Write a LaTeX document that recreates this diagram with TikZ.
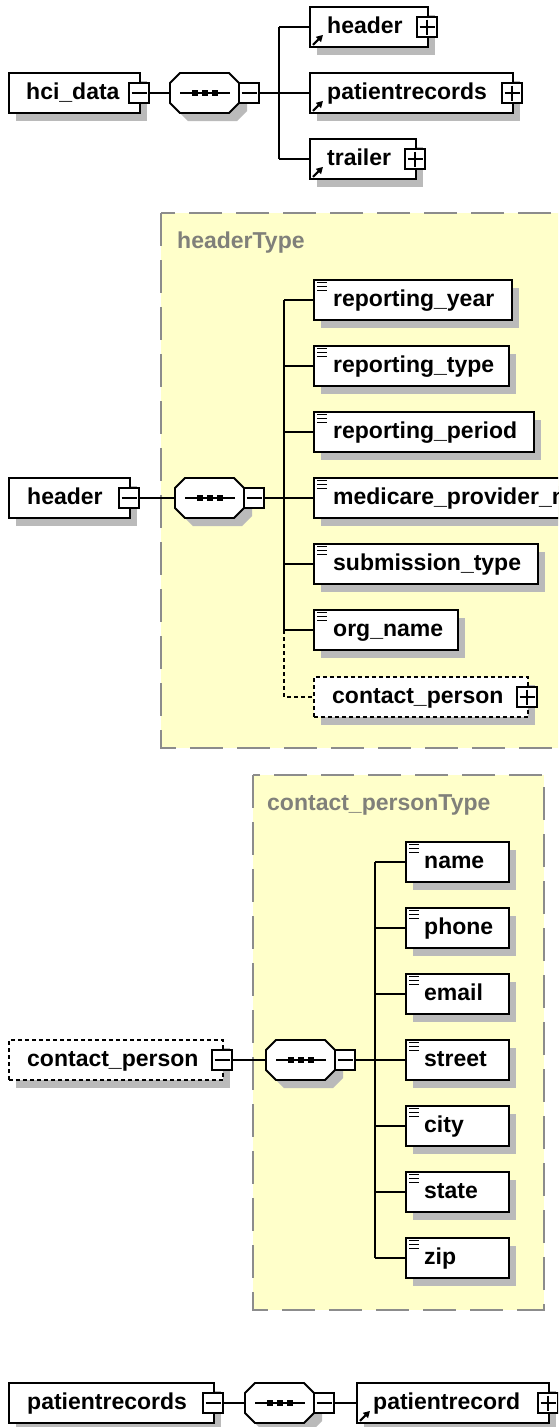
\documentclass[tikz,border=0pt]{standalone}
\usepackage{fontspec}
\setmainfont{Liberation Sans}
\usetikzlibrary{arrows.meta}
\definecolor{shadowc}{RGB}{186,186,186}
\definecolor{typebg}{RGB}{255,255,202}
\definecolor{typeline}{RGB}{140,140,140}
\definecolor{typetext}{RGB}{128,128,122}
\tikzset{
  ebox/.style={rectangle, draw=black, line width=1.8pt, fill=white, minimum height=40pt, inner sep=0pt, anchor=west},
  optional/.style={dash pattern=on 4pt off 3pt},
  lbl/.style={anchor=base west, inner sep=0pt, font=\fontsize{23}{28}\selectfont\bfseries},
  typelbl/.style={lbl, text=typetext},
  sq/.style={rectangle, draw=black, line width=1.5pt, fill=white, minimum size=20pt, inner sep=0pt},
  sign/.style={line width=1.5pt},
  conn/.style={line width=1.8pt},
  optconn/.style={conn, dash pattern=on 4pt off 3pt},
  icon/.style={line width=1.5pt},
  typebox/.style={fill=typebg, draw=typeline, line width=1.4pt, dash pattern=on 33pt off 14pt},
}
% element box: name, x, yc, width, extra style, text pad, text
\newcommand\elem[7]{%
  \fill[shadowc] (#2+8,#3-12) rectangle (#2+#4+8,#3+28);
  \node[ebox,#5,minimum width=#4pt] (#1) at (#2,#3) {};
  \node[lbl] (#1-text) at (#2+#6,#3+6) {#7};
}
\newcommand\minusq[3]{%
  \node[sq] (#1) at (#2,#3) {};
  \draw[sign] (#1.center) +(-7.5,0) -- +(7.5,0);
}
\newcommand\plussq[3]{%
  \node[sq] (#1) at (#2,#3) {};
  \draw[sign] (#1.center) +(-7.5,0) -- +(7.5,0) (#1.center) +(0,-7.5) -- +(0,7.5);
}
\newcommand\simpleicon[1]{%
  \draw[icon] (#1.north west) ++(4,3.5) -- ++(10,0) ++(-10,4) -- ++(10,0) ++(-10,4) -- ++(10,0);
}
\newcommand\refarrow[1]{%
  \draw[line width=2.2pt, -{Triangle[length=6.5pt,width=7pt]}] (#1.south west) ++(4,-3) -- ++(10,-10);
}
% sequence compositor: name, x left, yc, minus name
\newcommand\seqc[4]{%
  \begin{scope}[shift={(#2,#3)}]
    \fill[shadowc, shift={(8,8)}] (0,-10) -- (10,-20) -- (59,-20) -- (69,-10) -- (69,10) -- (59,20) -- (10,20) -- (0,10) -- cycle;
    \draw[conn, fill=white] (0,-10) -- (10,-20) -- (59,-20) -- (69,-10) -- (69,10) -- (59,20) -- (10,20) -- (0,10) -- cycle;
    \node[rectangle, minimum width=69pt, minimum height=40pt, inner sep=0pt, anchor=west] (#1) at (0,0) {};
    \draw[line width=1.5pt] (10,0) -- (60,0);
    \foreach \d in {-10,0,10} \fill (34.5+\d-3,-3) rectangle ++(6,6);
  \end{scope}
  \minusq{#4}{#2+79}{#3}
}
\begin{document}
\begin{tikzpicture}[x=1pt,y=-1pt]
\useasboundingbox (0,0) rectangle (558,1427);
\clip (0,0) rectangle (558,1427);
\fill[white] (0,0) rectangle (558,1427);

% ---------- hci_data ----------
\elem{hci}{8}{93}{131}{}{18}{hci\_data}
\minusq{hcim}{139}{93}
\seqc{seqA}{170}{93}{seqAm}
\coordinate (jA) at (279,93);
\elem{hdr}{309}{27}{118}{}{18}{header}
\refarrow{hdr}
\plussq{hdrp}{427}{27}
\elem{prs}{309}{93}{203}{}{18}{patientrecords}
\refarrow{prs}
\plussq{prsp}{512}{93}
\elem{trl}{309}{159}{106}{}{18}{trailer}
\refarrow{trl}
\plussq{trlp}{415}{159}
\draw[conn] (hcim.east) -- (seqA.west);
\draw[conn] (seqAm.east) -- (jA);
\draw[conn] (jA |- hdr.west) -- (jA |- trl.west);
\foreach \n in {hdr,prs,trl} \draw[conn] (jA |- \n.west) -- (\n.west);

% ---------- header ----------
\draw[typebox] (161,213) rectangle (620,748);
\node[typelbl] (hdrType) at (177,248) {headerType};
\elem{hdrE}{8}{498}{121}{}{19}{header}
\minusq{hdrEm}{129}{498}
\seqc{seqB}{175}{498}{seqBm}
\coordinate (jB) at (284,498);
\elem{ry}{313}{300}{198}{}{20}{reporting\_year}
\simpleicon{ry}
\elem{rt}{313}{366}{195}{}{20}{reporting\_type}
\simpleicon{rt}
\elem{rp}{313}{432}{220}{}{20}{reporting\_period}
\simpleicon{rp}
\elem{mp}{313}{498}{300}{}{20}{medicare\_provider\_number}
\simpleicon{mp}
\elem{st}{313}{564}{224}{}{20}{submission\_type}
\simpleicon{st}
\elem{on}{313}{630}{144}{}{20}{org\_name}
\simpleicon{on}
\elem{cp}{313}{697}{214}{optional}{19}{contact\_person}
\plussq{cpp}{527}{697}
\draw[conn] (hdrEm.east) -- (seqB.west);
\draw[conn] (seqBm.east) -- (jB);
\draw[conn] (jB |- ry.west) -- (jB |- on.west);
\foreach \n in {ry,rt,rp,mp,st,on} \draw[conn] (jB |- \n.west) -- (\n.west);
\draw[optconn] (jB |- on.west) |- (cp.west);

% ---------- contact_person ----------
\draw[typebox] (253,775) rectangle (544,1310);
\node[typelbl] (cpType) at (267,810) {contact\_personType};
\elem{cpE}{8}{1060}{214}{optional}{19}{contact\_person}
\minusq{cpEm}{222}{1060}
\seqc{seqC}{266}{1060}{seqCm}
\coordinate (jC) at (375,1060);
\elem{nm}{405}{862}{103}{}{19}{name}
\simpleicon{nm}
\elem{ph}{405}{928}{103}{}{19}{phone}
\simpleicon{ph}
\elem{em}{405}{994}{103}{}{19}{email}
\simpleicon{em}
\elem{sr}{405}{1060}{103}{}{19}{street}
\simpleicon{sr}
\elem{ct}{405}{1126}{103}{}{19}{city}
\simpleicon{ct}
\elem{sa}{405}{1192}{103}{}{19}{state}
\simpleicon{sa}
\elem{zp}{405}{1258}{103}{}{19}{zip}
\simpleicon{zp}
\draw[conn] (cpEm.east) -- (seqC.west);
\draw[conn] (seqCm.east) -- (jC);
\draw[conn] (jC |- nm.west) -- (jC |- zp.west);
\foreach \n in {nm,ph,em,sr,ct,sa,zp} \draw[conn] (jC |- \n.west) -- (\n.west);

% ---------- patientrecords ----------
\elem{prE}{8}{1403}{205}{}{19}{patientrecords}
\minusq{prEm}{213}{1403}
\seqc{seqD}{245}{1403}{seqDm}
\elem{prc}{356}{1403}{192}{}{17}{patientrecord}
\refarrow{prc}
\plussq{prcp}{548}{1403}
\draw[conn] (prEm.east) -- (seqD.west);
\draw[conn] (seqDm.east) -- (prc.west);
\end{tikzpicture}
\end{document}
